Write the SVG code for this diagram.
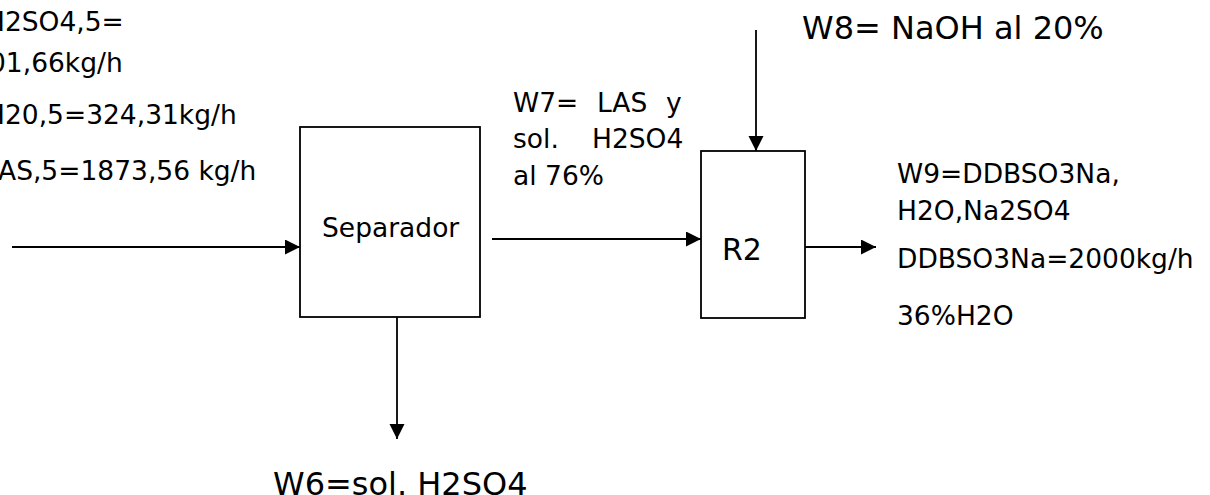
<svg xmlns="http://www.w3.org/2000/svg" width="1210" height="495" viewBox="0 0 1210 495">
<style>
  text { font-family: "DejaVu Sans", Verdana, sans-serif; fill: #000; }
  .s { font-size: 26.5px; }
  .m { font-size: 30px; }
  .l { font-size: 32px; }
  .box { fill: #fff; stroke: #000; stroke-width: 1.8; }
  .c { stroke: #000; stroke-width: 1.8; fill: none; marker-end: url(#ah); }
</style>
<defs>
  <marker id="ah" markerUnits="userSpaceOnUse" markerWidth="16" markerHeight="16" refX="15" refY="7.5" orient="auto">
    <path d="M0,0 L15,7.5 L0,15 Z" fill="#000"/>
  </marker>
</defs>
<rect width="1210" height="495" fill="#fff"/>
<g id="connectors">
  <line class="c" x1="12" y1="247" x2="300" y2="247"/>
  <line class="c" x1="492" y1="239" x2="701" y2="239"/>
  <line class="c" x1="756" y1="30" x2="756" y2="151"/>
  <line class="c" x1="805" y1="247" x2="876" y2="247"/>
  <line class="c" x1="397" y1="317" x2="397" y2="439"/>
</g>
<g id="separador">
  <rect class="box" x="300" y="127" width="180" height="190"/>
  <text class="s" x="322" y="237">Separador</text>
</g>
<g id="r2">
  <rect class="box" x="701" y="151" width="104" height="167"/>
  <text class="m" x="722" y="260">R2</text>
</g>
<g id="feed-label">
  <text class="s" x="-15" y="31">H2SO4,5=</text>
  <text class="s" x="-11" y="72">01,66kg/h</text>
  <text class="s" x="-15" y="124">H20,5=324,31kg/h</text>
  <text class="s" x="-2" y="180">AS,5=1873,56 kg/h</text>
</g>
<g id="w7-label">
  <text class="s" y="112"><tspan x="513">W7=</tspan><tspan x="597">LAS</tspan><tspan x="666">y</tspan></text>
  <text class="s" y="148"><tspan x="513">sol.</tspan><tspan x="592">H2SO4</tspan></text>
  <text class="s" x="513" y="185">al 76%</text>
</g>
<g id="w8-label">
  <text class="l" x="802" y="39">W8= NaOH al 20%</text>
</g>
<g id="w9-label">
  <text class="s" x="897" y="183">W9=DDBSO3Na,</text>
  <text class="s" x="897" y="220">H2O,Na2SO4</text>
  <text class="s" x="897" y="268">DDBSO3Na=2000kg/h</text>
  <text class="s" x="897" y="325">36%H2O</text>
</g>
<g id="w6-label">
  <text class="l" x="273" y="495">W6=sol. H2SO4</text>
</g>
</svg>
